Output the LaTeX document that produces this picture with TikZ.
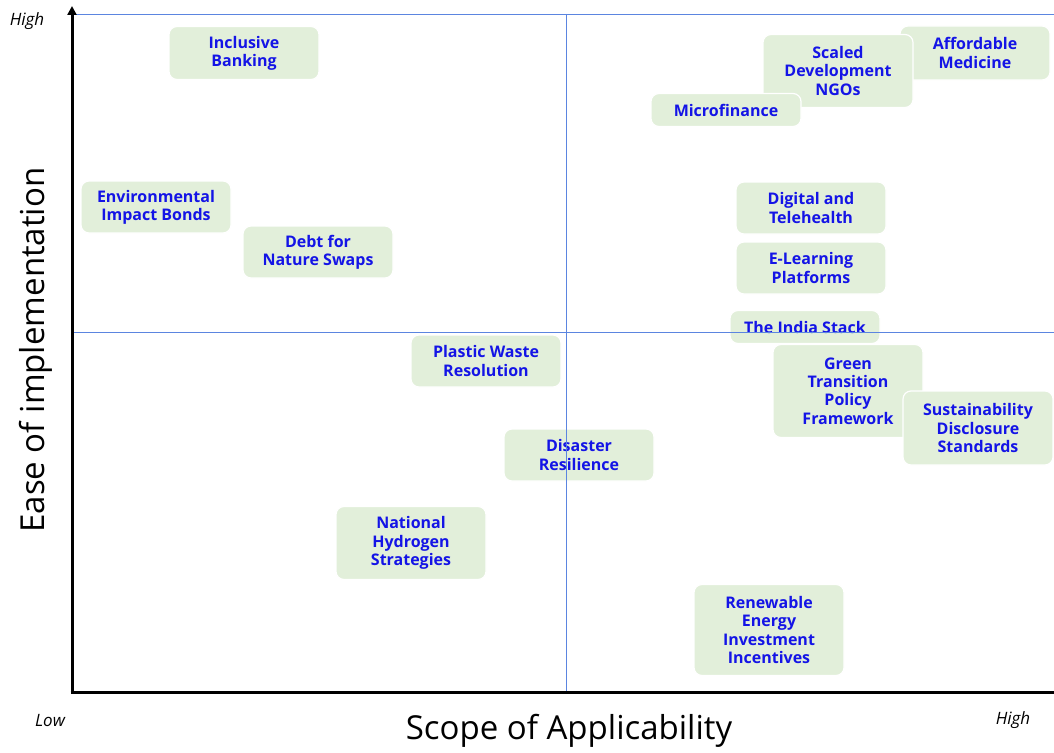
\documentclass[tikz,border=0pt]{standalone}
\usepackage{fontspec}
\setmainfont{Open Sans}
\usetikzlibrary{arrows.meta}
\definecolor{boxfill}{HTML}{E2EFDA}
\definecolor{txtblue}{HTML}{1414E6}
\definecolor{gridblue}{HTML}{5B85E0}
\tikzset{
  item/.style={draw=white, line width=1.2pt, fill=boxfill, rounded corners=8pt,
    minimum width=150pt, align=center, inner sep=2pt,
    font=\fontsize{16}{18.3}\selectfont\bfseries, text=txtblue},
  quad/.style={gridblue, line width=0.8pt},
  axis/.style={black, line width=3pt},
  tick/.style={font=\fontsize{17}{20}\selectfont\itshape},
  atitle/.style={font=\fontsize{33}{38}\selectfont}
}
\begin{document}
\begin{tikzpicture}[x=1pt,y=-1pt]
\useasboundingbox (0,0) rectangle (1054,752);
% boxes
\node[item, minimum height=53pt] (ib) at (244,53) {Inclusive\\Banking};
\node[item, minimum height=52pt] (eib) at (156,207) {Environmental\\Impact Bonds};
\node[item, minimum height=52pt] (dns) at (318,252) {Debt for\\Nature Swaps};
\node[item, minimum height=54pt] (am) at (975,53) {Affordable\\Medicine};
\node[item, minimum height=73pt] (sdn) at (838,71) {Scaled\\Development\\NGOs};
\node[item, minimum height=33pt] (mf) at (726,110) {Microfinance};
\node[item, minimum height=52pt] (dt) at (811,208) {Digital and\\Telehealth};
\node[item, minimum height=52pt] (el) at (811,268) {E-Learning\\Platforms};
\node[item, minimum height=33pt] (tis) at (805,327) {The India Stack};
\node[item, minimum height=93pt] (gt) at (848,391) {Green\\Transition\\Policy\\Framework};
\node[item, minimum height=74pt] (sds) at (978,428) {Sustainability\\Disclosure\\Standards};
\node[item, minimum height=52pt] (pw) at (486,361) {Plastic Waste\\Resolution};
\node[item, minimum height=52pt] (dr) at (579,455) {Disaster\\Resilience};
\node[item, minimum height=73pt] (nh) at (411,543) {National\\Hydrogen\\Strategies};
\node[item, minimum height=91pt] (re) at (769,630) {Renewable\\Energy\\Investment\\Incentives};
% quadrant lines
\coordinate (o) at (72,692);
\coordinate (tl) at (72,14);
\coordinate (tr) at (1054,14);
\coordinate (br) at (1054,692);
\coordinate (mt) at (566,14);
\coordinate (mb) at (566,692);
\coordinate (ml) at (72,332);
\coordinate (mr) at (1054,332);
\draw[quad] (tl) -- (tr);
\draw[quad] (mt) -- (mb);
\draw[quad] (ml) -- (mr);
% axes
\coordinate (ytop) at (72,6);
\draw[axis, -{Triangle[length=9pt,width=9pt]}] (o) -- (ytop);
\draw[axis] (70.5,692) -- (br);
% labels
\node[tick] (yh) at (27,21) {High};
\node[tick] (xl) at (50,720) {Low};
\node[tick] (xh) at (1013,720) {High};
\node[atitle, rotate=90] (yt) at (36,350) {Ease of implementation};
\node[atitle] (xt) at (569,731) {Scope of Applicability};
\end{tikzpicture}
\end{document}
